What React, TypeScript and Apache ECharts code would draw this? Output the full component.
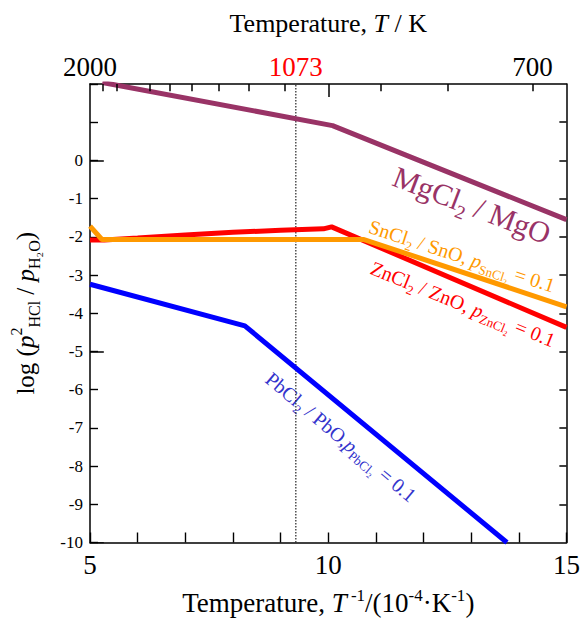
import { useEffect, useRef } from 'react';
import * as echarts from 'echarts';

const FONT = '"Liberation Serif", "Times New Roman", serif';

// Axis values
const xLabelValues = [5, 10, 15];
const yLabelValues = [0, -1, -2, -3, -4, -5, -6, -7, -8, -9, -10];
const yMajorTicks = [0, -5, -10];
const yRightTicks = [1, 0, -1, -2, -3, -4, -5, -6, -7, -8, -9];
const topTempTicks = [1900, 1800, 1600, 1500, 1400, 1300, 1200, 1100, 900, 800, 700];
const topTempMajor = [1000];
const topTempLabels = [2000, 1073, 700];
const markTemp = 1073;

// Series data: [1e4/T, log(p2HCl/pH2O)]
const mgcl2: number[][] = [[5.26, 2.04], [10.09, 0.91], [15, -1.55]];
const sncl2: number[][] = [[5, -1.72], [5.25, -2.07], [10.75, -2.07], [15, -3.83]];
const zncl2: number[][] = [[5, -2.08], [5.3, -2.08], [6, -2.03], [7, -1.95], [8, -1.88], [9, -1.83], [9.9, -1.79], [10.07, -1.74], [15, -4.37]];
const pbcl2: number[][] = [[5, -3.24], [8.25, -4.33], [13.75, -10]];

const X_MIN = 5, X_MAX = 15, Y_MIN = -10, Y_MAX = 2;

const C_MG = '#993366';
const C_SN = '#FF9900';
const C_ZN = '#FF0000';
const C_PB = '#0000FF';
const C_PB_TEXT = '#3333CC';

function labelRich(color: string, size: number, sub: number) {
  return {
    n: { fontFamily: FONT, fontSize: size, lineHeight: size * 1.35, fill: color, verticalAlign: 'middle' },
    i: { fontFamily: FONT, fontSize: size, lineHeight: size * 1.35, fill: color, fontStyle: 'italic', verticalAlign: 'middle' },
    s: { fontFamily: FONT, fontSize: sub, lineHeight: sub, fill: color, verticalAlign: 'bottom' },
  };
}

// frame ticks drawn as short segments in data space (lines series on the cartesian grid)
const TOP_SHORT = 0.19;  // y units
const TOP_LONG = 0.34;   // y units
const SIDE_SHORT = 0.15; // x units
const SIDE_LONG = 0.29;  // x units
const frameTicks = [
  ...topTempTicks.map((t) => ({ coords: [[1e4 / t, Y_MAX], [1e4 / t, Y_MAX - TOP_SHORT]] })),
  ...topTempMajor.map((t) => ({ coords: [[1e4 / t, Y_MAX], [1e4 / t, Y_MAX - TOP_LONG]] })),
  ...yRightTicks.map((v) => ({ coords: [[X_MAX, v], [X_MAX - SIDE_SHORT, v]] })),
  ...yMajorTicks.map((v) => ({ coords: [[X_MIN, v], [X_MIN + SIDE_LONG, v]] })),
];

export default function App() {
  const ref = useRef<HTMLDivElement>(null);
  useEffect(() => {
    document.body.style.margin = '0';
    if (!ref.current) return;
    const chart = echarts.init(ref.current, undefined, { renderer: 'svg' });
    const axisLineStyle = { color: '#000', width: 1.5 };
    const tickStyle = { color: '#000', width: 1.4 };
    const deg = Math.PI / 180;
    chart.setOption({
      animation: false,
      grid: { left: 86, right: 14.5, top: 84, bottom: 75 },
      xAxis: [
        {
          type: 'value', position: 'bottom', min: X_MIN, max: X_MAX, interval: 1,
          axisLine: { show: true, onZero: false, lineStyle: axisLineStyle },
          axisTick: { show: true, inside: true, length: 10, lineStyle: tickStyle },
          axisLabel: { customValues: xLabelValues, fontSize: 27, fontFamily: FONT, color: '#000', margin: 9 },
          splitLine: { show: false },
          name: '{n|Temperature, }{i|T}{sup| -1}{n|/(10}{sup|-4}{n|·K}{sup|-1}{n|)}',
          nameLocation: 'middle', nameGap: 44,
          nameTextStyle: {
            rich: {
              n: { fontFamily: FONT, fontSize: 27, color: '#000', lineHeight: 32 },
              i: { fontFamily: FONT, fontSize: 27, color: '#000', fontStyle: 'italic', lineHeight: 32 },
              sup: { fontFamily: FONT, fontSize: 17, color: '#000', lineHeight: 16, verticalAlign: 'top' },
            },
          },
        },
        {
          type: 'value', position: 'top', min: X_MIN, max: X_MAX,
          axisLine: { show: true, onZero: false, lineStyle: axisLineStyle },
          axisTick: { show: false },
          axisLabel: {
            customValues: topTempLabels.map((t) => 1e4 / t),
            margin: 4,
            formatter: (v: number) => {
              const t = Math.round(1e4 / v);
              return t === markTemp ? `{r|${t}}` : `{k|${t}}`;
            },
            rich: {
              r: { fontFamily: FONT, fontSize: 27, color: '#FF0000' },
              k: { fontFamily: FONT, fontSize: 27, color: '#000' },
            },
          },
          splitLine: { show: false },
          name: '{n|Temperature, }{i|T}{n| / K}',
          nameLocation: 'middle', nameGap: 48,
          nameTextStyle: {
            rich: {
              n: { fontFamily: FONT, fontSize: 26, color: '#000' },
              i: { fontFamily: FONT, fontSize: 26, color: '#000', fontStyle: 'italic' },
            },
          },
        },
      ],
      yAxis: [
        {
          type: 'value', position: 'left', min: Y_MIN, max: Y_MAX, interval: 1,
          axisLine: { show: true, onZero: false, lineStyle: axisLineStyle },
          axisTick: { show: true, inside: true, length: 8, lineStyle: tickStyle },
          axisLabel: { customValues: yLabelValues, fontSize: 17, fontFamily: FONT, color: '#000', margin: 7 },
          splitLine: { show: false },
          name: '{n|log (}{i|p}{sup|2}{sub|HCl}{n| / }{i|p}{sub|H₂O}{n|)}',
          nameLocation: 'middle', nameGap: 48, nameRotate: 90,
          nameTextStyle: {
            rich: {
              n: { fontFamily: FONT, fontSize: 25, color: '#000', lineHeight: 34 },
              i: { fontFamily: FONT, fontSize: 25, color: '#000', fontStyle: 'italic', lineHeight: 34 },
              sup: { fontFamily: FONT, fontSize: 16, color: '#000', lineHeight: 16, verticalAlign: 'top' },
              sub: { fontFamily: FONT, fontSize: 16, color: '#000', lineHeight: 16, verticalAlign: 'bottom' },
            },
          },
        },
        {
          type: 'value', position: 'right', min: Y_MIN, max: Y_MAX,
          axisLine: { show: true, onZero: false, lineStyle: axisLineStyle },
          axisTick: { show: false },
          axisLabel: { show: false },
          splitLine: { show: false },
        },
      ],
      series: [
        {
          type: 'line', name: '1073 K', data: [[1e4 / markTemp, Y_MIN], [1e4 / markTemp, Y_MAX]],
          showSymbol: false, symbol: 'none', lineStyle: { color: '#222', width: 1.2, type: [1.5, 1.5] },
        },
        { type: 'line', name: 'PbCl2', data: pbcl2, symbol: 'none', lineStyle: { color: C_PB, width: 5 } },
        { type: 'line', name: 'ZnCl2', data: zncl2, symbol: 'none', lineStyle: { color: C_ZN, width: 5 } },
        { type: 'line', name: 'SnCl2', data: sncl2, symbol: 'none', lineStyle: { color: C_SN, width: 5 } },
        { type: 'line', name: 'MgCl2', data: mgcl2, symbol: 'none', lineStyle: { color: C_MG, width: 5 } },
        {
          type: 'lines', name: 'frame ticks', coordinateSystem: 'cartesian2d', silent: true,
          data: frameTicks, lineStyle: { color: '#000', width: 1.5, opacity: 1, curveness: 0 },
          effect: { show: false }, z: 10,
        },
      ],
      graphic: [
        {
          type: 'text', x: 472, y: 205, rotation: -21 * deg,
          style: { text: '{n|MgCl}{s|2}{n| / MgO}', align: 'center', verticalAlign: 'middle', rich: labelRich(C_MG, 30, 19) },
        },
        {
          type: 'text', x: 462, y: 256, rotation: -18 * deg,
          style: { text: '{n|SnCl}{s|2}{n| / SnO, }{i|p}{s|SnCl₂}{n| = 0.1}', align: 'center', verticalAlign: 'middle', rich: labelRich(C_SN, 20, 13) },
        },
        {
          type: 'text', x: 463, y: 304, rotation: -22 * deg,
          style: { text: '{n|ZnCl}{s|2}{n| / ZnO, }{i|p}{s|ZnCl₂}{n| = 0.1}', align: 'center', verticalAlign: 'middle', rich: labelRich(C_ZN, 20, 13) },
        },
        {
          type: 'text', x: 341, y: 437, rotation: -40 * deg,
          style: { text: '{n|PbCl}{s|2}{n| / PbO,}{i|p}{s|PbCl₂}{n| = 0.1}', align: 'center', verticalAlign: 'middle', rich: labelRich(C_PB_TEXT, 20, 13) },
        },
      ],
    });
    return () => chart.dispose();
  }, []);
  return <div ref={ref} style={{ width: 583, height: 621, background: '#fff' }} />;
}
